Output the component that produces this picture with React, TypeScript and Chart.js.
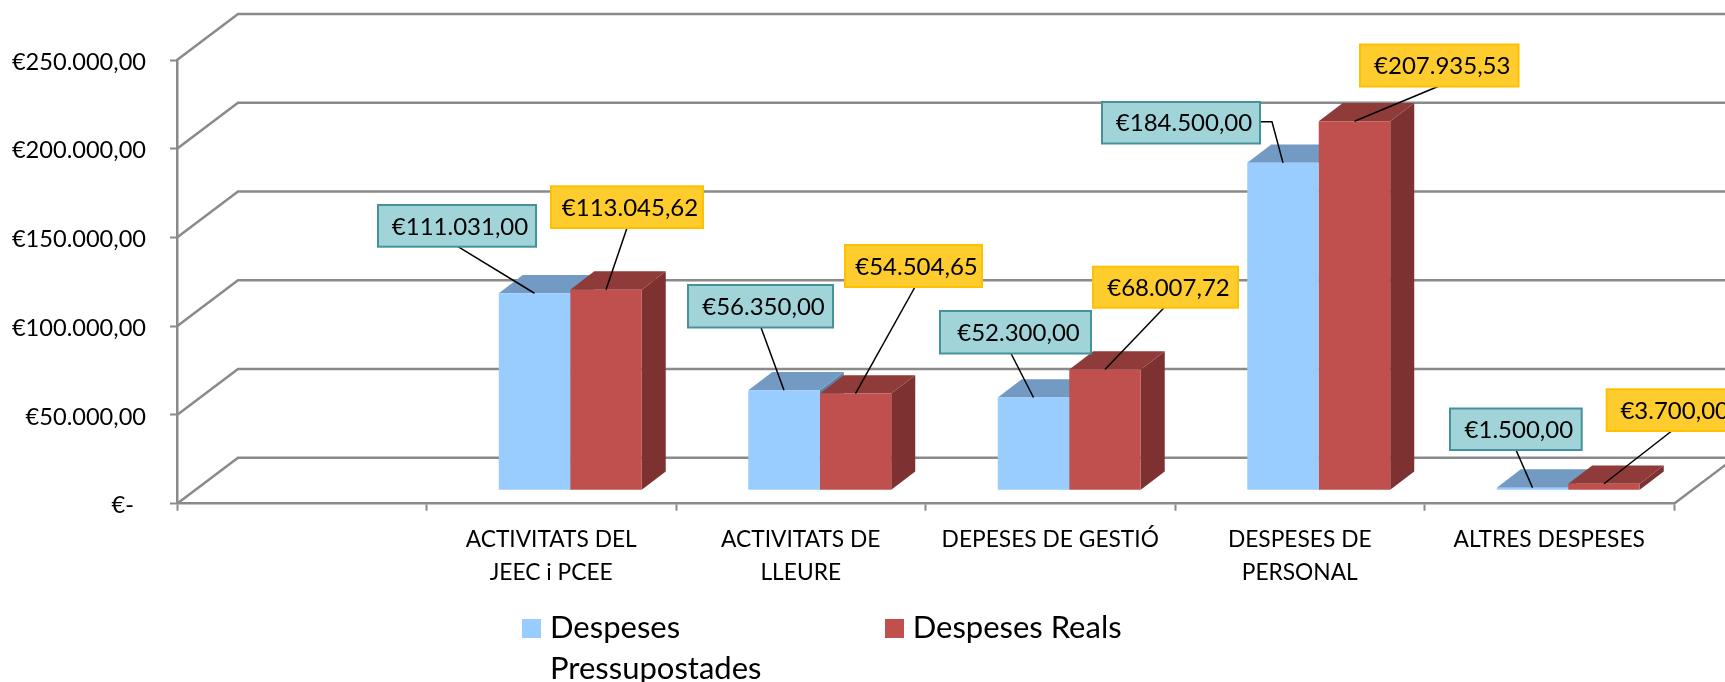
import React, { useEffect, useRef } from "react";
import { Chart, registerables } from "chart.js";

Chart.register(...registerables);

const categories: (string | string[])[] = [
  "",
  ["ACTIVITATS DEL", "JEEC i PCEE"],
  ["ACTIVITATS DE", "LLEURE"],
  "DEPESES DE GESTIÓ",
  ["DESPESES DE", "PERSONAL"],
  "ALTRES DESPESES",
];
const budgeted = [null, 111031, 56350, 52300, 184500, 1500];
const actual = [null, 113045.62, 54504.65, 68007.72, 207935.53, 3700];
const budgetedName = ["Despeses", "Pressupostades"];
const actualName = "Despeses Reals";

// ---- layout of the pseudo-3D box (not data) ----
const W = 1725;
const H = 682;
const PLOT = { left: 177, right: 1674, top: 60, bottom: 503.7 };
const WALL = { dx: 61, dy: -46 };
const BAR_SHIFT = { dx: 19, dy: -13.4 };
const BAR_DEPTH = { dx: 24, dy: -18.3 };
const FONT = "Lato, Carlito, sans-serif";
const GRID = "#8a8a8a";
const GRID_WIDTH = 2.5;
const LEGEND_PAD = -7.5;

// callout boxes: [left, top, width, height, leader start x, leader start y]
const budgetBoxes = [
  null,
  [378, 205, 158, 41.7, 458, 246.7],
  [688, 285, 145, 42.5, 761, 327.5],
  [940, 311, 151, 42.5, 1011, 353.5],
  [1102, 102, 158, 41.5, 1260, 121.7],
  [1450, 408.5, 131.7, 41.5, 1516, 450],
];
const actualBoxes = [
  null,
  [551, 186.3, 152, 41.7, 627, 228],
  [845, 245, 137, 42, 915, 287],
  [1093, 266.7, 145, 41, 1164, 307.7],
  [1360, 44.5, 158.5, 42, 1438, 86.5],
  [1606.7, 389.3, 130, 41.7, 1671.7, 431],
];

const euro = (v: number) => {
  const [i, d] = v.toFixed(2).split(".");
  return "€" + i.replace(/\B(?=(\d{3})+(?!\d))/g, ".") + "," + d;
};

const tickLabel = (v: number) =>
  v === 0 ? "€-  " : "€" + String(v).replace(/\B(?=(\d{3})+(?!\d))/g, ".") + ",00";

const swatch = (color: string) => {
  const c = document.createElement("canvas");
  c.width = 19;
  c.height = 19;
  const g = c.getContext("2d") as CanvasRenderingContext2D;
  g.fillStyle = color;
  g.fillRect(0, 0, 19, 19);
  return c;
};

const pseudo3d = {
  id: "pseudo3d",
  beforeLayout(chart: any) {
    const lg = chart.legend;
    if (lg && !lg.__patched) {
      const fit = lg.fit;
      lg.fit = function () {
        fit.call(this);
        this.height = 0;
      };
      lg.draw = function () {
        this._draw();
      };
      lg.__patched = true;
    }
  },
  afterLayout(chart: any) {
    const lg = chart.legend;
    lg.left = 528.5 - LEGEND_PAD;
    lg.right = W + 400;
    lg.top = 628 - 15.5 - LEGEND_PAD;
    lg.bottom = H;
  },
  beforeDatasetsDraw(chart: any) {
    const { ctx } = chart;
    const y = chart.scales.y;
    ctx.save();
    ctx.strokeStyle = GRID;
    ctx.lineWidth = GRID_WIDTH;
    ctx.lineJoin = "miter";
    y.ticks.forEach((t: any) => {
      const py = y.getPixelForValue(t.value);
      ctx.beginPath();
      ctx.moveTo(PLOT.left, py);
      ctx.lineTo(PLOT.left + WALL.dx, py + WALL.dy);
      ctx.lineTo(PLOT.right + WALL.dx, py + WALL.dy);
      ctx.stroke();
    });
    const base = y.getPixelForValue(0);
    ctx.beginPath();
    ctx.moveTo(PLOT.right, base);
    ctx.lineTo(PLOT.right + WALL.dx, base + WALL.dy);
    ctx.stroke();
    ctx.restore();

    // side and top faces: first series first, so the next one covers it
    ctx.save();
    ctx.translate(BAR_SHIFT.dx, BAR_SHIFT.dy);
    chart.data.datasets.forEach((ds: any, index: number) => {
      const meta = chart.getDatasetMeta(index);
      meta.data.forEach((el: any, i: number) => {
        if (ds.data[i] == null) return;
        const { x, y: top, base: bottom, width } = el.getProps(["x", "y", "base", "width"], true);
        const l = x - width / 2;
        const r = x + width / 2;
        ctx.fillStyle = ds.sideColor;
        ctx.beginPath();
        ctx.moveTo(r, top);
        ctx.lineTo(r + BAR_DEPTH.dx, top + BAR_DEPTH.dy);
        ctx.lineTo(r + BAR_DEPTH.dx, bottom + BAR_DEPTH.dy);
        ctx.lineTo(r, bottom);
        ctx.closePath();
        ctx.fill();
        ctx.fillStyle = ds.topColor;
        ctx.beginPath();
        ctx.moveTo(l, top);
        ctx.lineTo(l + BAR_DEPTH.dx, top + BAR_DEPTH.dy);
        ctx.lineTo(r + BAR_DEPTH.dx, top + BAR_DEPTH.dy);
        ctx.lineTo(r, top);
        ctx.closePath();
        ctx.fill();
      });
    });
    ctx.restore();
  },
  beforeDatasetDraw(chart: any) {
    chart.ctx.save();
    chart.ctx.translate(BAR_SHIFT.dx, BAR_SHIFT.dy);
  },
  afterDatasetDraw(chart: any) {
    chart.ctx.restore();
  },
  afterDatasetsDraw(chart: any) {
    const { ctx } = chart;
    const sets = [
      { boxes: budgetBoxes, fill: "#A0D4D8", border: "#46929A", idx: 0 },
      { boxes: actualBoxes, fill: "#FFCC2E", border: "#FFC000", idx: 1 },
    ];
    ctx.save();
    sets.forEach((s) => {
      const meta = chart.getDatasetMeta(s.idx);
      const values = chart.data.datasets[s.idx].data;
      meta.data.forEach((el: any, i: number) => {
        const b = s.boxes[i];
        if (!b || values[i] == null) return;
        const [bx, by, bw, bh, lx, ly] = b;
        const { x, y } = el.getProps(["x", "y"], true);
        ctx.strokeStyle = "#000";
        ctx.lineWidth = 1.5;
        ctx.beginPath();
        ctx.moveTo(lx, ly);
        if (s.idx === 0 && i === 4) ctx.lineTo(lx + 12, ly);
        ctx.lineTo(x + BAR_SHIFT.dx, y + BAR_SHIFT.dy);
        ctx.stroke();
        ctx.fillStyle = s.fill;
        ctx.strokeStyle = s.border;
        ctx.lineWidth = 2;
        ctx.fillRect(bx, by, bw, bh);
        ctx.strokeRect(bx, by, bw, bh);
        ctx.fillStyle = "#000";
        ctx.font = `24px ${FONT}`;
        ctx.textAlign = "center";
        ctx.textBaseline = "middle";
        ctx.fillText(euro(values[i]), bx + bw / 2 + 3, by + bh / 2 + 1);
      });
    });
    ctx.restore();
  },
};

export default function App() {
  const ref = useRef<HTMLCanvasElement>(null);
  useEffect(() => {
    const chart = new Chart(ref.current as HTMLCanvasElement, {
      type: "bar",
      data: {
        labels: categories as any,
        datasets: [
          {
            label: budgetedName as any,
            data: budgeted,
            backgroundColor: "#99CCFF",
            topColor: "#739AC3",
            sideColor: "#5F82A6",
            clip: false,
          } as any,
          {
            label: actualName,
            data: actual,
            backgroundColor: "#C0504D",
            topColor: "#8F3B3A",
            sideColor: "#7D3130",
            clip: false,
          } as any,
        ],
      },
      options: {
        responsive: false,
        animation: false,
        devicePixelRatio: 1,
        layout: { padding: { top: PLOT.top, right: W - PLOT.right, left: 0, bottom: 0 } },
        datasets: { bar: { categoryPercentage: 0.573, barPercentage: 1 } },
        plugins: {
          tooltip: { enabled: false },
          legend: {
            position: "bottom",
            align: "start",
            labels: {
              usePointStyle: true,
              pointStyleWidth: 6,
              boxHeight: 19,
              padding: LEGEND_PAD,
              color: "#000",
              font: { family: FONT, size: 31, lineHeight: "41px" as any },
              generateLabels: (c: any) =>
                Chart.defaults.plugins.legend.labels
                  .generateLabels(c)
                  .map((item: any) => ({ ...item, pointStyle: swatch(item.fillStyle), lineWidth: 0 })),
            },
          },
        },
        scales: {
          x: {
            afterFit: (s: any) => {
              s.height = H - PLOT.bottom;
            },
            border: { color: GRID, width: GRID_WIDTH },
            grid: { drawOnChartArea: false, tickLength: 7, tickWidth: 2, tickColor: GRID },
            ticks: {
              autoSkip: false,
              maxRotation: 0,
              minRotation: 0,
              padding: 12,
              color: "#000",
              font: { family: FONT, size: 22.75, lineHeight: "33px" as any },
            },
          },
          y: {
            min: 0,
            max: 250000,
            afterFit: (s: any) => {
              s.width = PLOT.left;
            },
            border: { color: GRID, width: GRID_WIDTH },
            grid: { drawOnChartArea: false, tickLength: 7, tickWidth: 2, tickColor: GRID },
            ticks: {
              stepSize: 50000,
              padding: 24,
              color: "#000",
              font: { family: FONT, size: 23.6, lineHeight: "4px" as any },
              callback: (v: any) => ["", tickLabel(Number(v))],
            },
          },
        },
      },
      plugins: [pseudo3d],
    } as any);
    return () => chart.destroy();
  }, []);
  return (
    <div style={{ position: "fixed", left: 0, top: 0, width: W, height: H, overflow: "hidden", background: "#fff" }}>
      <canvas ref={ref} width={W} height={H} style={{ display: "block" }} />
    </div>
  );
}
